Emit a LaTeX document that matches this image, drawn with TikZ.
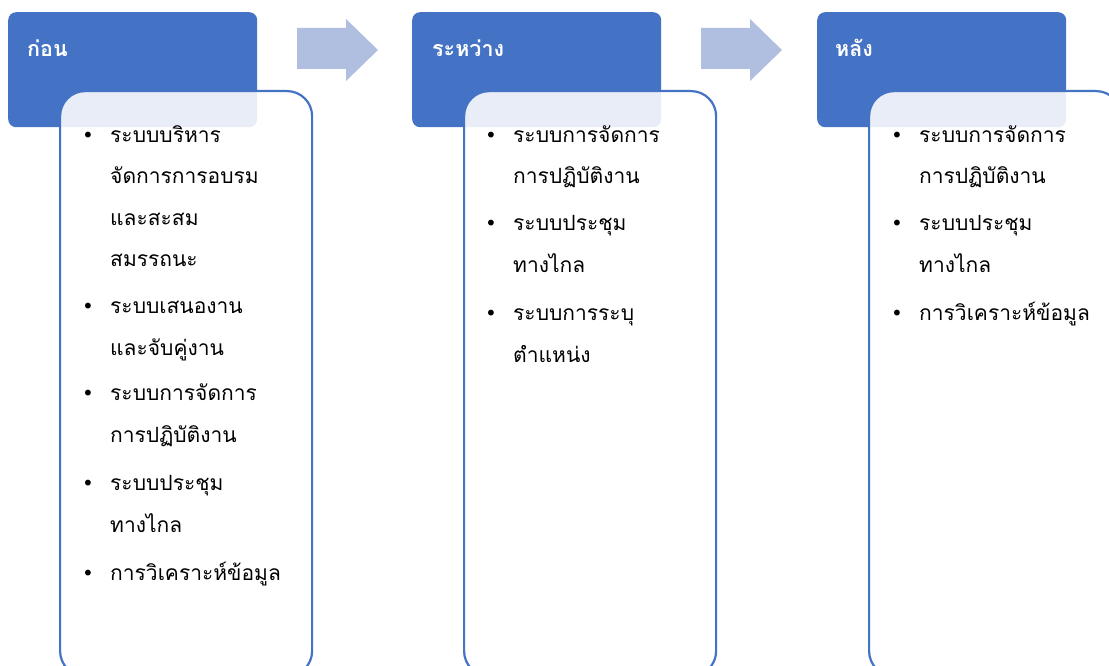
\documentclass[tikz,border=0pt]{standalone}
\usepackage{fontspec}
\newfontfamily\thai[Script=Thai]{Loma}
\newfontfamily\symf{DejaVu Sans}
\definecolor{hdrblue}{HTML}{4472C4}
\definecolor{arrowblue}{HTML}{B0BFE0}
\newcommand{\bul}{\makebox[28pt][l]{\symf\fontsize{20}{20}\selectfont •}}
\newcommand{\ind}{\hspace*{28pt}}
\tikzset{
  hdrbox/.style={fill=hdrblue, rounded corners=8pt, anchor=north west, minimum width=249pt, minimum height=115pt, inner sep=0pt},
  hdrtext/.style={text=white, anchor=base west, inner sep=0pt, font=\thai\bfseries\fontsize{21.5}{25}\selectfont},
  bodybox/.style={draw=hdrblue, line width=2.2pt, fill=white, fill opacity=0.88, rounded corners=25pt, anchor=north west, minimum width=252pt, minimum height=585pt, inner sep=0pt},
  itemtext/.style={anchor=base west, inner sep=0pt, align=left, font=\thai\fontsize{21}{41.5}\selectfont},
  blockarrow/.style={fill=arrowblue}
}
\begin{document}
\begin{tikzpicture}[x=1pt,y=-1pt]
\clip (0,0) rectangle (1109,666);
\fill[white] (0,0) rectangle (1109,666);
% headers
\node[hdrbox] (h1) at (8,12) {};
\node[hdrbox] (h2) at (412,12) {};
\node[hdrbox] (h3) at (817,12) {};
% arrows
\fill[blockarrow] (297,28) -- (346,28) -- (346,19) -- (378,50) -- (346,81) -- (346,69) -- (297,69) -- cycle;
\fill[blockarrow] (701,28) -- (750,28) -- (750,19) -- (782,50) -- (750,81) -- (750,69) -- (701,69) -- cycle;
% body boxes
\node[bodybox] (b1) at (59,90) {};
\node[bodybox] (b2) at (463,90) {};
\node[bodybox] (b3) at (868,90) {};
% header texts
\node[hdrtext] (t1) at (27,57) {ก่อน};
\node[hdrtext] (t2) at (432,57) {ระหว่าง};
\node[hdrtext] (t3) at (835,57) {หลัง};
% column 1 (anchor = baseline of last line)
\node[itemtext] (c1i1) at (82,266.5) {\bul ระบบบริหาร\\ \ind จัดการการอบรม\\ \ind และสะสม\\ \ind สมรรถนะ};
\node[itemtext] (c1i2) at (82,355) {\bul ระบบเสนองาน\\ \ind และจับคู่งาน};
\node[itemtext] (c1i3) at (82,442) {\bul ระบบการจัดการ\\ \ind การปฏิบัติงาน};
\node[itemtext] (c1i4) at (82,532) {\bul ระบบประชุม\\ \ind ทางไกล};
\node[itemtext] (c1i5) at (82,580) {\bul การวิเคราะห์ข้อมูล};
% column 2
\node[itemtext] (c2i1) at (485,184) {\bul ระบบการจัดการ\\ \ind การปฏิบัติงาน};
\node[itemtext] (c2i2) at (485,272) {\bul ระบบประชุม\\ \ind ทางไกล};
\node[itemtext] (c2i3) at (485,362) {\bul ระบบการระบุ\\ \ind ตำแหน่ง};
% column 3
\node[itemtext] (c3i1) at (891,184) {\bul ระบบการจัดการ\\ \ind การปฏิบัติงาน};
\node[itemtext] (c3i2) at (891,272) {\bul ระบบประชุม\\ \ind ทางไกล};
\node[itemtext] (c3i3) at (891,320) {\bul การวิเคราะห์ข้อมูล};
\end{tikzpicture}
\end{document}
